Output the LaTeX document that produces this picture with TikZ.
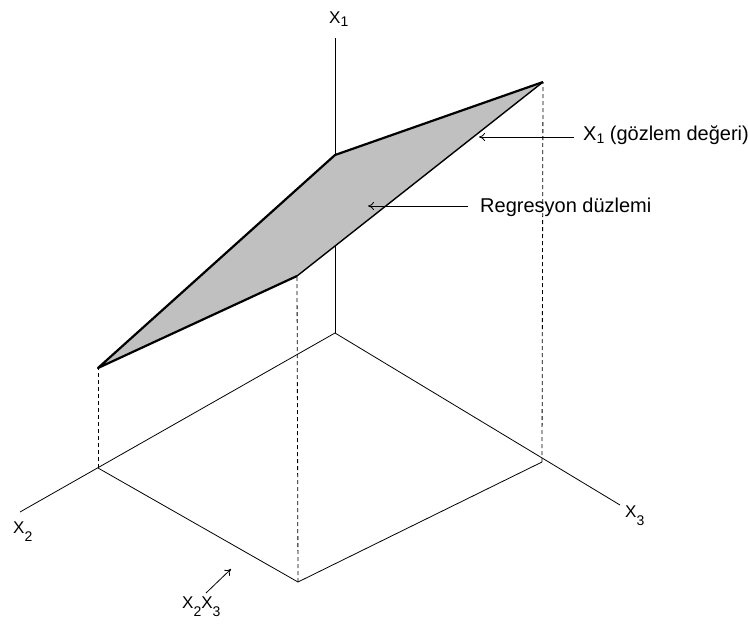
\documentclass[tikz,border=0pt]{standalone}
\usepackage{fontspec}
\setmainfont{Liberation Sans}
\usetikzlibrary{arrows.meta}
\definecolor{planegray}{RGB}{192,192,192}
\newcommand\lowsub[1]{\raisebox{-8pt}{\fontsize{14}{14}\selectfont #1}}
\newcommand\notesub[1]{\raisebox{-3pt}{\fontsize{14}{14}\selectfont #1}}
\tikzset{
  axisline/.style={draw=black, line width=0.8pt},
  dropline/.style={draw=black, dashed, dash pattern=on 4pt off 3pt, line width=0.8pt},
  thickedge/.style={draw=black, line width=2.2pt, line join=round},
  thinedge/.style={draw=black, line width=1.4pt, line join=round},
  pointer/.style={draw=black, line width=0.8pt, -{To[length=6pt,width=8pt]}},
  lbl/.style={font=\fontsize{17}{19}\selectfont, inner sep=0pt, anchor=base west},
  note/.style={font=\fontsize{20}{22}\selectfont, inner sep=0pt, anchor=base west},
}
\begin{document}
\begin{tikzpicture}[x=1pt,y=-1pt]
\useasboundingbox (0,0) rectangle (748,624);
% floor points
\coordinate (O) at (335,333);
\coordinate (A) at (98,468);
\coordinate (C) at (542,462);
\coordinate (B) at (298,582);
\coordinate (X1end) at (335,38);
\coordinate (X2end) at (20,512);
\coordinate (X3end) at (620,505);
% plane points
\coordinate (PA) at (98,368);
\coordinate (PB) at (297,276);
\coordinate (PC) at (543,82);
\coordinate (PO) at (335,155);
% axes
\draw[axisline] (O) -- (X1end);
\draw[axisline] (O) -- (X2end);
\draw[axisline] (O) -- (X3end);
\draw[axisline] (A) -- (B) -- (C);
% drop lines
\draw[dropline] (A) -- (PA);
\draw[dropline] (B) -- (PB);
\draw[dropline] (C) -- (PC);
% plane
\fill[planegray] (PA) -- (PO) -- (PC) -- (PB) -- cycle;
\draw[thinedge] (PB) -- (PC);
\draw[thickedge] (PB) -- (PA) -- (PO) -- (PC);
% labels
\node[lbl] (l1) at (329,23) {X\notesub{1}};
\node[lbl] (l2) at (13,533) {X\lowsub{2}};
\node[lbl] (l3) at (625,517) {X\lowsub{3}};
\node[lbl] (l23) at (182,608) {X\lowsub{2}X\lowsub{3}};
\coordinate (s23) at (206,593);
\coordinate (t23) at (231,569);
\draw[pointer] (s23) -- (t23);
% notes
\node[note] (n1) at (583,140) {X\notesub{1} (gözlem değeri)};
\node[note] (n2) at (480,212) {Regresyon düzlemi};
\coordinate (t1) at (479,137);
\coordinate (t2) at (368,206);
\draw[pointer] (n1.base west) ++(-9,-3) -- (t1);
\draw[pointer] (n2.base west) ++(-12,-6) -- (t2);
\end{tikzpicture}
\end{document}
